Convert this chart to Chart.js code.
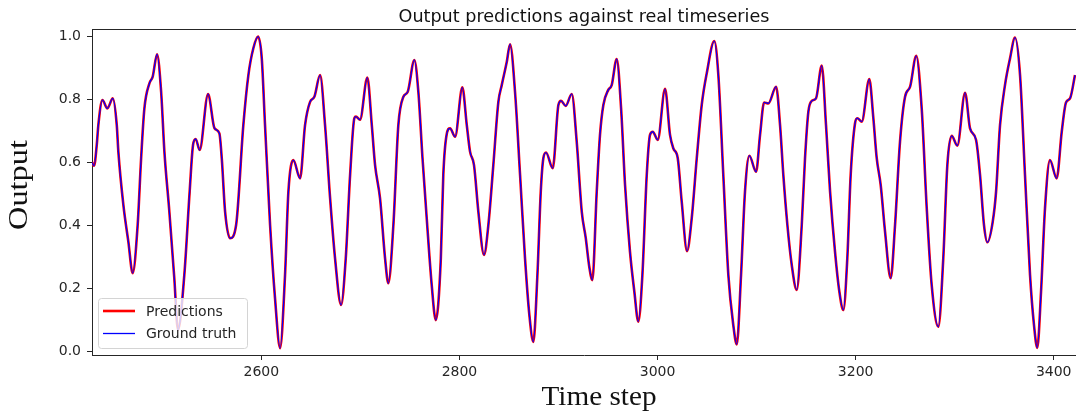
<!DOCTYPE html>
<html>
<head>
<meta charset="utf-8">
<title>Output predictions against real timeseries</title>
<script src="https://cdn.jsdelivr.net/npm/chart.js@4.4.1/dist/chart.umd.min.js"></script>
<style>
  html, body { margin: 0; padding: 0; background: #fff; }
  canvas { display: block; }
</style>
</head>
<body>
<canvas id="chart" width="1076" height="416"></canvas>
<script>
// time steps and the series value at each step
const steps = [
  2428.8, 2431.1, 2433.8, 2435.4, 2439.5, 2444.5, 2450.0, 2454.0, 2455.6, 2460.7,
  2465.7, 2470.1, 2475.1, 2478.6, 2481.9, 2487.0, 2490.3, 2494.7, 2498.8, 2502.1,
  2507.1, 2512.1, 2515.8, 2522.2, 2527.6, 2531.0, 2533.7, 2537.7, 2546.2, 2552.7,
  2557.6, 2560.0, 2563.4, 2568.4, 2574.5, 2581.8, 2586.9, 2591.9, 2596.7, 2600.4,
  2603.7, 2608.8, 2613.8, 2618.9, 2623.9, 2627.3, 2632.3, 2639.1, 2644.1, 2649.2,
  2653.5, 2659.3, 2664.3, 2669.4, 2674.4, 2680.5, 2685.2, 2689.6, 2693.9, 2695.5,
  2699.6, 2707.0, 2711.5, 2714.8, 2719.8, 2724.9, 2728.2, 2733.3, 2738.3, 2743.4,
  2747.8, 2754.5, 2758.5, 2762.7, 2767.0, 2772.0, 2776.1, 2781.2, 2783.7, 2787.0,
  2790.5, 2795.6, 2802.9, 2807.4, 2810.7, 2814.7, 2819.1, 2824.8, 2829.2, 2834.2,
  2839.3, 2842.7, 2847.8, 2851.1, 2856.1, 2861.2, 2866.2, 2870.6, 2874.6, 2878.7,
  2882.1, 2884.7, 2887.4, 2894.2, 2899.9, 2902.6, 2907.3, 2913.4, 2918.4, 2923.5,
  2927.5, 2931.0, 2934.2, 2938.6, 2941.9, 2945.3, 2950.3, 2953.7, 2958.8, 2963.2,
  2967.2, 2972.2, 2976.6, 2980.6, 2984.7, 2989.1, 2992.4, 2995.2, 3000.2, 3007.6,
  3012.6, 3016.0, 3020.4, 3024.4, 3029.8, 3034.5, 3039.6, 3044.6, 3049.7, 3057.3,
  3061.4, 3066.4, 3071.5, 3076.5, 3080.0, 3084.3, 3088.3, 3092.7, 3099.5, 3103.5,
  3107.6, 3111.9, 3119.7, 3123.7, 3127.0, 3131.1, 3135.5, 3140.5, 3145.6, 3148.9,
  3152.3, 3155.7, 3160.0, 3165.8, 3170.1, 3174.2, 3179.2, 3183.6, 3187.6, 3191.6,
  3195.0, 3199.4, 3201.7, 3206.2, 3213.8, 3217.9, 3221.3, 3225.3, 3229.7, 3235.4,
  3239.8, 3244.8, 3249.9, 3255.0, 3261.2, 3266.7, 3271.8, 3276.8, 3283.5, 3288.5,
  3292.6, 3297.0, 3302.7, 3310.5, 3315.5, 3321.6, 3325.6, 3329.6, 3333.0, 3338.4,
  3341.8, 3345.8, 3350.8, 3355.9, 3360.9, 3366.0, 3371.0, 3376.1, 3380.1, 3383.4,
  3387.2, 3391.2, 3396.2, 3403.0, 3408.1, 3412.4, 3416.5, 3421.5
];

const groundTruth = [
  0.600, 0.589, 0.655, 0.718, 0.798, 0.771, 0.803, 0.718, 0.634, 0.464,
  0.348, 0.248, 0.401, 0.613, 0.771, 0.851, 0.872, 0.943, 0.824, 0.634,
  0.443, 0.232, 0.068, 0.242, 0.507, 0.655, 0.674, 0.639, 0.817, 0.708,
  0.692, 0.613, 0.443, 0.359, 0.401, 0.718, 0.877, 0.962, 0.999, 0.930,
  0.718, 0.401, 0.168, 0.010, 0.242, 0.507, 0.607, 0.549, 0.718, 0.792,
  0.808, 0.877, 0.718, 0.486, 0.295, 0.147, 0.295, 0.560, 0.740, 0.745,
  0.735, 0.869, 0.718, 0.591, 0.486, 0.295, 0.216, 0.401, 0.718, 0.808,
  0.824, 0.925, 0.824, 0.613, 0.420, 0.210, 0.099, 0.295, 0.560, 0.687,
  0.708, 0.681, 0.838, 0.718, 0.634, 0.591, 0.443, 0.306, 0.401, 0.591,
  0.792, 0.845, 0.919, 0.975, 0.824, 0.560, 0.295, 0.115, 0.030, 0.242,
  0.507, 0.613, 0.631, 0.581, 0.782, 0.795, 0.779, 0.817, 0.665, 0.443,
  0.360, 0.270, 0.226, 0.507, 0.687, 0.782, 0.830, 0.845, 0.928, 0.771,
  0.528, 0.316, 0.189, 0.094, 0.242, 0.560, 0.687, 0.697, 0.671, 0.833,
  0.687, 0.644, 0.613, 0.475, 0.318, 0.422, 0.613, 0.782, 0.883, 0.985,
  0.877, 0.560, 0.242, 0.083, 0.022, 0.242, 0.507, 0.621, 0.570, 0.687,
  0.790, 0.787, 0.840, 0.718, 0.560, 0.401, 0.274, 0.195, 0.401, 0.613,
  0.761, 0.795, 0.803, 0.907, 0.718, 0.507, 0.316, 0.189, 0.131, 0.295,
  0.560, 0.724, 0.740, 0.729, 0.864, 0.740, 0.613, 0.528, 0.380, 0.232,
  0.401, 0.665, 0.808, 0.840, 0.938, 0.771, 0.454, 0.210, 0.078, 0.295,
  0.591, 0.684, 0.653, 0.821, 0.708, 0.671, 0.560, 0.401, 0.346, 0.411,
  0.507, 0.718, 0.845, 0.930, 0.996, 0.877, 0.560, 0.242, 0.083, 0.011,
  0.189, 0.454, 0.607, 0.549, 0.697, 0.790, 0.803, 0.877
];

// the model output sits on top of the ground truth at this scale
const predictions = groundTruth;

const xTickValues = [2600, 2800, 3000, 3200, 3400];
const yTickValues = [0.0, 0.2, 0.4, 0.6, 0.8, 1.0];

const toPoints = vals => steps.map((s, i) => ({ x: s, y: vals[i] }));

const INK = '#262626';
const TICK_FONT = { family: 'DejaVu Sans', size: 14 };

// draws a string squeezed or stretched to a set width
function drawFitted(ctx, text, x, y, width) {
  const w = ctx.measureText(text).width;
  ctx.save();
  ctx.translate(x, y);
  ctx.scale(width / w, 1);
  ctx.fillText(text, 0, 0);
  ctx.restore();
}

const decorations = {
  id: 'decorations',
  afterDraw(chart) {
    const { ctx, chartArea: a } = chart;
    ctx.save();

    // top spine
    ctx.strokeStyle = INK;
    ctx.lineWidth = 1;
    ctx.beginPath();
    ctx.moveTo(a.left, a.top + 0.5);
    ctx.lineTo(a.right, a.top + 0.5);
    ctx.stroke();

    // title
    ctx.fillStyle = '#111';
    ctx.font = '17.6px "DejaVu Sans"';
    ctx.textAlign = 'center';
    ctx.textBaseline = 'alphabetic';
    ctx.fillText('Output predictions against real timeseries', (a.left + a.right) / 2, 21.5);

    // axis titles in a serif face
    ctx.font = '27px "Liberation Serif"';
    ctx.textAlign = 'center';
    ctx.textBaseline = 'alphabetic';
    drawFitted(ctx, 'Time step', 599, 405, 115);
    ctx.save();
    ctx.translate(27, 185);
    ctx.rotate(-Math.PI / 2);
    drawFitted(ctx, 'Output', 0, 0, 90);
    ctx.restore();

    // legend box, lower left
    const bx = 98.5, by = 298.5, bw = 149, bh = 50, r = 3;
    ctx.fillStyle = 'rgba(255,255,255,0.8)';
    ctx.strokeStyle = '#d4d4d4';
    ctx.lineWidth = 1;
    ctx.beginPath();
    ctx.roundRect(bx, by, bw, bh, r);
    ctx.fill();
    ctx.stroke();

    const rows = [311, 333.5];
    chart.data.datasets.forEach((ds, i) => {
      ctx.strokeStyle = ds.borderColor;
      ctx.lineWidth = ds.borderWidth;
      ctx.beginPath();
      ctx.moveTo(103, rows[i]);
      ctx.lineTo(135, rows[i]);
      ctx.stroke();
      ctx.fillStyle = INK;
      ctx.font = '14px "DejaVu Sans"';
      ctx.textAlign = 'left';
      ctx.textBaseline = 'middle';
      ctx.fillText(ds.label, 146, rows[i] + 1);
    });

    ctx.restore();
  }
};

new Chart(document.getElementById('chart'), {
  type: 'line',
  data: {
    datasets: [
      {
        label: 'Predictions',
        data: toPoints(predictions),
        borderColor: '#ff0000',
        borderWidth: 2.6,
        pointRadius: 0,
        cubicInterpolationMode: 'monotone',
        fill: false,
        order: 1
      },
      {
        label: 'Ground truth',
        data: toPoints(groundTruth),
        borderColor: '#0000ff',
        borderWidth: 1.3,
        pointRadius: 0,
        cubicInterpolationMode: 'monotone',
        fill: false,
        order: 0
      }
    ]
  },
  options: {
    responsive: false,
    animation: false,
    devicePixelRatio: 1,
    layout: { padding: { top: 29, right: 0, bottom: 0, left: 0 } },
    plugins: {
      legend: { display: false },
      title: { display: false },
      tooltip: { enabled: false }
    },
    scales: {
      x: {
        type: 'linear',
        min: 2429,
        max: 3422.5,
        afterBuildTicks: scale => { scale.ticks = xTickValues.map(v => ({ value: v })); },
        afterFit: scale => { scale.height = 61; },
        ticks: {
          color: INK,
          font: TICK_FONT,
          padding: 4,
          maxRotation: 0,
          callback: v => String(v)
        },
        grid: { display: true, drawOnChartArea: false, drawTicks: true, tickLength: 5, color: INK },
        border: { display: true, color: INK, width: 1 }
      },
      y: {
        type: 'linear',
        min: -0.0117,
        max: 1.0232,
        afterBuildTicks: scale => { scale.ticks = yTickValues.map(v => ({ value: v })); },
        afterFit: scale => { scale.width = 92; },
        ticks: {
          color: INK,
          font: TICK_FONT,
          padding: 6,
          callback: v => Number(v).toFixed(1)
        },
        grid: { display: true, drawOnChartArea: false, drawTicks: true, tickLength: 5, color: INK },
        border: { display: true, color: INK, width: 1 }
      }
    }
  },
  plugins: [decorations]
});
</script>
</body>
</html>
